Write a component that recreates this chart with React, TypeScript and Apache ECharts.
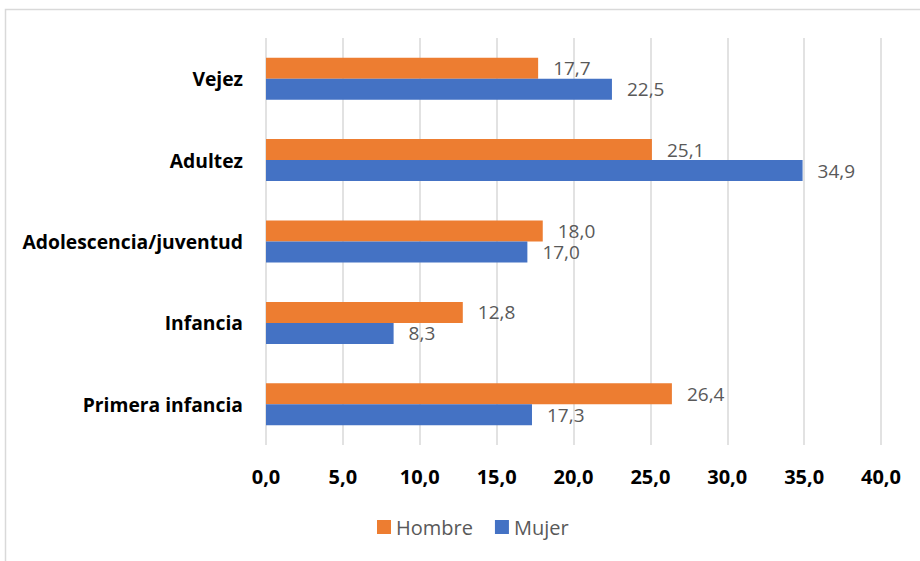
import React, { useEffect, useRef } from "react";
import * as echarts from "echarts";

const categories = ["Primera infancia", "Infancia", "Adolescencia/juventud", "Adultez", "Vejez"];
const hombre = [26.4, 12.8, 18.0, 25.1, 17.7];
const mujer = [17.3, 8.3, 17.0, 34.9, 22.5];
const seriesNames = ["Hombre", "Mujer"];
const xMin = 0;
const xMax = 40;
const xInterval = 5;

const fmt = (v: number) => v.toFixed(1).replace(".", ",");
const FONT = "'Open Sans', sans-serif";

export default function App() {
  const ref = useRef<HTMLDivElement>(null);
  useEffect(() => {
    if (!ref.current) return;
    const chart = echarts.init(ref.current, undefined, { renderer: "svg" });
    const labelStyle = {
      show: true,
      position: "right" as const,
      distance: 15,
      color: "#595959",
      fontSize: 19,
      lineHeight: 19,
      fontFamily: FONT,
      formatter: (p: any) => fmt(p.value),
    };
    chart.setOption({
      animation: false,
      backgroundColor: "#ffffff",
      textStyle: { fontFamily: FONT },
      graphic: [
        {
          type: "rect",
          shape: { x: 5.5, y: 9.5, width: 1000, height: 700 },
          style: { fill: "none", stroke: "#d9d9d9", lineWidth: 1.5 },
          silent: true,
          z: -10,
        },
      ],
      legend: {
        data: seriesNames,
        left: 377,
        top: 516,
        padding: 0,
        itemWidth: 14,
        itemHeight: 14,
        itemGap: 22,
        icon: "rect",
        textStyle: { color: "#595959", fontSize: 20, lineHeight: 22, fontFamily: FONT },
      },
      grid: { left: 266, right: 39, top: 38, bottom: 116, containLabel: false },
      xAxis: {
        type: "value",
        min: xMin,
        max: xMax,
        interval: xInterval,
        axisLine: { show: false },
        axisTick: { show: false },
        splitLine: { show: true, lineStyle: { color: "#d9d9d9", width: 1.5 } },
        axisLabel: {
          color: "#000000",
          fontWeight: "bold",
          fontSize: 20,
          fontFamily: FONT,
          margin: 21,
          formatter: (v: number) => fmt(v),
        },
      },
      yAxis: {
        type: "category",
        data: categories,
        axisLine: { show: false },
        axisTick: { show: false },
        splitLine: { show: false },
        axisLabel: {
          color: "#000000",
          fontWeight: "bold",
          fontSize: 19.3,
          fontFamily: FONT,
          margin: 23,
        },
      },
      series: [
        {
          name: seriesNames[0],
          type: "bar",
          data: hombre,
          barWidth: 21,
          barGap: "0%",
          itemStyle: { color: "#ED7D31" },
          label: labelStyle,
        },
        {
          name: seriesNames[1],
          type: "bar",
          data: mujer,
          barWidth: 21,
          barGap: "0%",
          itemStyle: { color: "#4472C4" },
          label: labelStyle,
        },
      ],
    });
    return () => chart.dispose();
  }, []);
  return (
    <div
      ref={ref}
      style={{ position: "absolute", left: 0, top: 0, width: 920, height: 561 }}
    />
  );
}
